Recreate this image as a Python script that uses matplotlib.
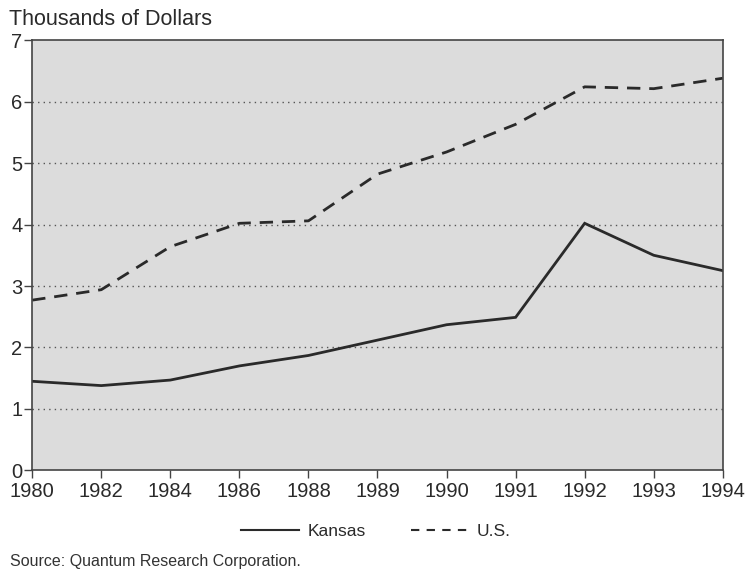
import matplotlib.pyplot as plt
from matplotlib.lines import Line2D

plt.rcParams['font.family'] = ['Liberation Sans', 'DejaVu Sans']

# data (thousands of dollars)
years = ['1980', '1982', '1984', '1986', '1988', '1989', '1990', '1991', '1992', '1993', '1994']
kansas = [1.45, 1.38, 1.47, 1.70, 1.87, 2.12, 2.37, 2.49, 4.02, 3.50, 3.25]
us = [2.77, 2.94, 3.64, 4.02, 4.06, 4.82, 5.18, 5.63, 6.24, 6.21, 6.38]
yticks = [0, 1, 2, 3, 4, 5, 6, 7]

ink = '#2a2a2a'

fig = plt.figure(figsize=(7.49, 5.73), dpi=100)
ax = fig.add_axes([0.043, 0.179, 0.922, 0.751])
ax.set_facecolor('#dcdcdc')

x = list(range(len(years)))
ax.plot(x, kansas, color=ink, lw=2.0, solid_joinstyle='miter')
ax.plot(x, us, color=ink, lw=2.0, linestyle=(0, (4.8, 3.2)))

ax.set_xlim(0, len(years) - 1)
ax.set_ylim(0, 7)
ax.set_xticks(x)
ax.set_xticklabels(years)
ax.set_yticks(yticks)

for v in yticks[1:-1]:
    ax.axhline(v, color='#555555', lw=1.0, linestyle=(0, (1, 3)), zorder=1)

for s in ax.spines.values():
    s.set_color('#444444')
    s.set_linewidth(1.2)

ax.tick_params(axis='both', direction='out', length=6, width=1.0, color='#444444',
               labelsize=14.5, labelcolor=ink)
ax.tick_params(axis='x', pad=2)
ax.tick_params(axis='y', pad=1)

fig.text(0.012, 0.966, 'Thousands of Dollars', fontsize=15.5, color=ink, va='center')

handles = [Line2D([], [], color=ink, lw=1.5),
           Line2D([], [], color=ink, lw=1.5, linestyle=(0, (4, 3.5)))]
fig.legend(handles, ['Kansas', 'U.S.'], loc='center', bbox_to_anchor=(0.502, 0.072),
           ncol=2, frameon=False, fontsize=12.5, handlelength=3.3, columnspacing=2.6,
           handletextpad=0.5, labelcolor=ink)

fig.text(0.014, 0.02, 'Source: Quantum Research Corporation.', fontsize=11.5,
         color='#333333', va='center')

fig.savefig('out.png', dpi=100, facecolor='white')
